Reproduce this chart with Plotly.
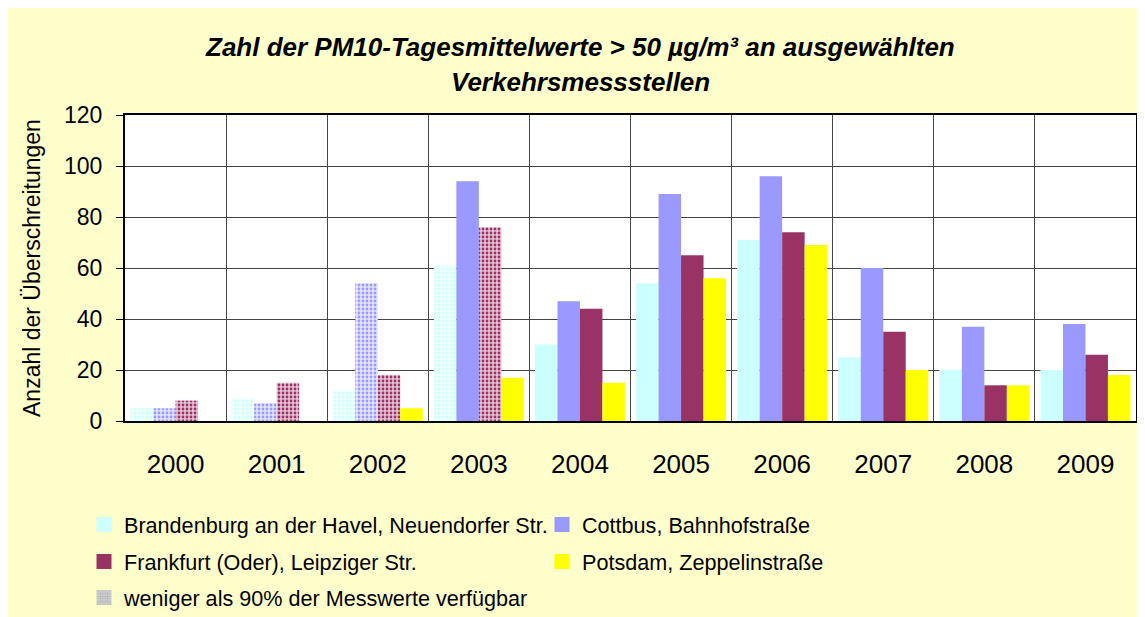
import plotly.graph_objects as go

years = ["2000", "2001", "2002", "2003", "2004", "2005", "2006", "2007", "2008", "2009"]
brandenburg = [5, 9, 12, 61, 30, 54, 71, 25, 20, 20]
cottbus = [5, 7, 54, 94, 47, 89, 96, 60, 37, 38]
frankfurt = [8, 15, 18, 76, 44, 65, 74, 35, 14, 26]
potsdam = [None, None, 5, 17, 15, 56, 69, 20, 14, 18]

# 1 = weniger als 90% der Messwerte verfügbar
brandenburg_incomplete = [1, 1, 1, 1, 0, 0, 0, 0, 0, 0]
cottbus_incomplete = [1, 1, 1, 0, 0, 0, 0, 0, 0, 0]
frankfurt_incomplete = [1, 1, 1, 1, 0, 0, 0, 0, 0, 0]
potsdam_incomplete = [0, 0, 0, 0, 0, 0, 0, 0, 0, 0]

names = ["Brandenburg an der Havel, Neuendorfer Str.", "Cottbus, Bahnhofstraße",
         "Frankfurt (Oder), Leipziger Str.", "Potsdam, Zeppelinstraße"]
note_name = "weniger als 90% der Messwerte verfügbar"
values = [brandenburg, cottbus, frankfurt, potsdam]
incomplete = [brandenburg_incomplete, cottbus_incomplete, frankfurt_incomplete, potsdam_incomplete]
colors = ["#CCFFFF", "#9999FF", "#993366", "#FFFF00"]
light_colors = ["#F2FFFF", "#E4E4FF", "#E6C2D4", "#FFFFAA"]
groups = ["b", "c", "f", "p"]

FONT = "Liberation Sans, Arial, sans-serif"

# page offset of the figure (body margin) and plot area in page pixels
OFF = 8
W, H = 1132, 609
L, R, T, B = 125, 1136, 115, 421
PW, PH = R - L, B - T


def px_x(p):
    return (p - L) / PW


def px_y(p):
    return (B - p) / PH


fig = go.Figure()

for i in range(4):
    inc = incomplete[i]
    fig.add_trace(go.Bar(
        x=years, y=values[i], name=names[i], showlegend=False, offsetgroup=groups[i],
        marker=dict(
            color=colors[i],
            line=dict(width=0),
            pattern=dict(
                shape=["." if f else "" for f in inc],
                bgcolor=[light_colors[i] if f else colors[i] for f in inc],
                fgcolor=colors[i], fgopacity=1, size=4, solidity=0.38, fillmode="replace",
            ),
        ),
        hoverinfo="x+y+name",
    ))

legend_of = ["legend", "legend", "legend2", "legend2"]
for i in range(4):
    fig.add_trace(go.Bar(
        x=[years[0]], y=[None], name=names[i], offsetgroup=groups[i],
        legend=legend_of[i], showlegend=True,
        marker=dict(color=colors[i], line=dict(color=colors[i], width=3)),
    ))
fig.add_trace(go.Bar(
    x=[years[0]], y=[None], name=note_name, offsetgroup=groups[0],
    legend="legend3", showlegend=True,
    marker=dict(color="#A8A8A8", line=dict(color="#C8C8C8", width=3),
                pattern=dict(shape=".", bgcolor="#E4E4E4", fgcolor="#A8A8A8", fgopacity=1,
                             size=3, solidity=0.5, fillmode="replace")),
))

leg_common = dict(orientation="h", xanchor="left", yanchor="middle",
                  entrywidth=413, entrywidthmode="pixels",
                  font=dict(family=FONT, size=21.6, color="black"),
                  bgcolor="rgba(0,0,0,0)", borderwidth=0, itemclick=False, itemdoubleclick=False)

grid = "#444444"

fig.update_layout(
    width=W, height=H,
    margin=dict(l=L - OFF, r=W - (R - OFF), t=T - OFF, b=H - (B - OFF), pad=0, autoexpand=False),
    paper_bgcolor="#FFFFCC",
    plot_bgcolor="white",
    barmode="group", bargap=0.11, bargroupgap=0,
    font=dict(family=FONT, color="black"),
    xaxis=dict(
        type="category", tickson="boundaries", ticks="",
        showgrid=True, gridcolor=grid, gridwidth=1,
        showline=True, linecolor="black", linewidth=2, mirror=True,
        tickfont=dict(family=FONT, size=26, color="black"),
        ticklabelstandoff=19, automargin=False,
    ),
    yaxis=dict(
        range=[0, 120], dtick=20, tick0=0,
        showgrid=True, gridcolor=grid, gridwidth=1,
        showline=True, linecolor="black", linewidth=2, mirror=True,
        ticks="outside", ticklen=7, tickcolor="black", tickwidth=1,
        tickfont=dict(family=FONT, size=23, color="black"),
        ticklabelstandoff=9, zeroline=False, automargin=False,
    ),
    legend=dict(x=px_x(84), y=px_y(525), **leg_common),
    legend2=dict(x=px_x(84), y=px_y(562), **leg_common),
    legend3=dict(x=px_x(84), y=px_y(598), **leg_common),
    annotations=[
        dict(text="<b><i>Zahl der PM10-Tagesmittelwerte &gt; 50 µg/m³ an ausgewählten</i></b>",
             xref="paper", yref="paper", x=px_x(580), y=px_y(47), xanchor="center", yanchor="middle",
             showarrow=False, font=dict(family=FONT, size=26, color="black")),
        dict(text="<b><i>Verkehrsmessstellen</i></b>",
             xref="paper", yref="paper", x=px_x(580), y=px_y(82), xanchor="center", yanchor="middle",
             showarrow=False, font=dict(family=FONT, size=26, color="black")),
        dict(text="Anzahl der Überschreitungen", textangle=-90,
             xref="paper", yref="paper", x=px_x(32), y=px_y(268), xanchor="center", yanchor="middle",
             showarrow=False, font=dict(family=FONT, size=23, color="black")),
    ],
)

fig.write_html("out.html")
